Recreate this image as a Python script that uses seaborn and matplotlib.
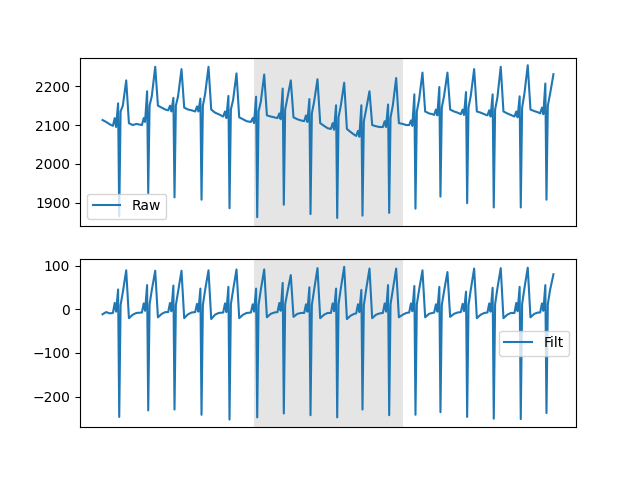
import numpy as np
import matplotlib
matplotlib.use('Agg')
from matplotlib import pyplot as plt
import seaborn as sns

# time of each downward QRS spike (s)
beat_t = [0.370, 1.013, 1.596, 2.195, 2.816, 3.430, 4.020, 4.612, 5.204,
          5.765, 6.357, 6.940, 7.494, 8.086, 8.676, 9.275, 9.845]
# keypoint offsets around each spike: pre, bump, post, up, down, ret, kink, peak, drop, b1, b2
offs = [-0.14, -0.10, -0.07, -0.025, 0.0, 0.03, 0.08, 0.155, 0.215, 0.30, 0.38]
t_end = 10.0

lead_t = [0.0, 0.08, 0.16]
lead_raw = [2113, 2108, 2102]
lead_filt = [-11, -6, -9]

raw_vals = [
    [2098, 2118, 2095, 2156, 1865, 2135, 2150, 2215, 2105, 2100, 2103],
    [2100, 2118, 2108, 2187, 1925, 2150, 2175, 2250, 2150, 2145, 2140],
    [2138, 2150, 2135, 2170, 1914, 2150, 2175, 2244, 2145, 2140, 2138],
    [2135, 2148, 2135, 2168, 1908, 2150, 2180, 2250, 2140, 2132, 2128],
    [2122, 2135, 2118, 2175, 1886, 2140, 2165, 2233, 2120, 2115, 2110],
    [2108, 2118, 2105, 2173, 1863, 2135, 2160, 2230, 2125, 2122, 2120],
    [2118, 2130, 2115, 2194, 1895, 2140, 2170, 2215, 2120, 2115, 2112],
    [2110, 2125, 2108, 2167, 1871, 2130, 2160, 2218, 2105, 2098, 2092],
    [2090, 2105, 2088, 2151, 1861, 2120, 2150, 2209, 2090, 2082, 2075],
    [2072, 2085, 2070, 2151, 1867, 2110, 2140, 2187, 2100, 2097, 2095],
    [2095, 2110, 2095, 2153, 1874, 2120, 2150, 2221, 2105, 2103, 2100],
    [2100, 2112, 2098, 2179, 1885, 2135, 2165, 2235, 2135, 2130, 2128],
    [2126, 2140, 2125, 2198, 1916, 2145, 2175, 2235, 2140, 2135, 2132],
    [2128, 2140, 2126, 2185, 1899, 2145, 2175, 2244, 2135, 2132, 2128],
    [2125, 2138, 2122, 2179, 1888, 2140, 2170, 2250, 2135, 2130, 2126],
    [2122, 2135, 2120, 2174, 1888, 2145, 2180, 2254, 2140, 2136, 2133],
    [2130, 2145, 2128, 2207, 1908, 2150, 2180, 2231, 2231, 2231, 2231],
]

filt_vals = [
    [-8, 15, -5, 46, -247, 10, 40, 90, -20, -12, -8],
    [-7, 14, -3, 56, -232, 12, 45, 89, -18, -10, -6],
    [-6, 15, -4, 55, -230, 10, 42, 89, -20, -11, -7],
    [-6, 13, -5, 48, -242, 10, 45, 90, -22, -12, -8],
    [-7, 14, -6, 52, -253, 12, 45, 92, -20, -12, -8],
    [-7, 12, -5, 48, -248, 10, 45, 92, -18, -10, -7],
    [-6, 15, -3, 61, -239, 12, 40, 79, -17, -10, -8],
    [-8, 12, -5, 51, -243, 10, 45, 95, -20, -12, -8],
    [-8, 14, -4, 48, -248, 12, 48, 98, -22, -14, -10],
    [-9, 12, -6, 45, -230, 10, 45, 94, -20, -12, -9],
    [-8, 14, -5, 56, -243, 12, 45, 94, -18, -12, -8],
    [-7, 14, -4, 54, -242, 12, 45, 90, -18, -10, -8],
    [-7, 12, -5, 52, -236, 10, 42, 86, -17, -10, -7],
    [-6, 13, -4, 41, -247, 10, 45, 94, -20, -12, -8],
    [-7, 14, -5, 50, -251, 12, 48, 95, -20, -12, -8],
    [-8, 15, -4, 52, -252, 12, 48, 96, -18, -10, -7],
    [-7, 14, -3, 56, -238, 12, 45, 81, 81, 81, 81],
]

span_start, span_end = 3.35, 6.67

t = np.concatenate([lead_t, (np.array(beat_t)[:, None] + np.array(offs)[None, :]).ravel()])
raw = np.concatenate([lead_raw, np.array(raw_vals).ravel()])
filt = np.concatenate([lead_filt, np.array(filt_vals).ravel()])
keep = t <= t_end + 1e-9
t, raw, filt = t[keep], raw[keep], filt[keep]

fig, (ax1, ax2) = plt.subplots(2, 1, figsize=(6.4, 4.8), dpi=100)

for ax in (ax1, ax2):
    ax.axvspan(span_start, span_end, color='gray', alpha=0.2, lw=0)

sns.lineplot(x=t, y=raw, ax=ax1, label='Raw', sort=False)
sns.lineplot(x=t, y=filt, ax=ax2, label='Filt', sort=False)

ax1.legend(loc='lower left')
ax2.legend(loc='center right')
for ax in (ax1, ax2):
    ax.set_xticks([])

fig.savefig('out.png')
